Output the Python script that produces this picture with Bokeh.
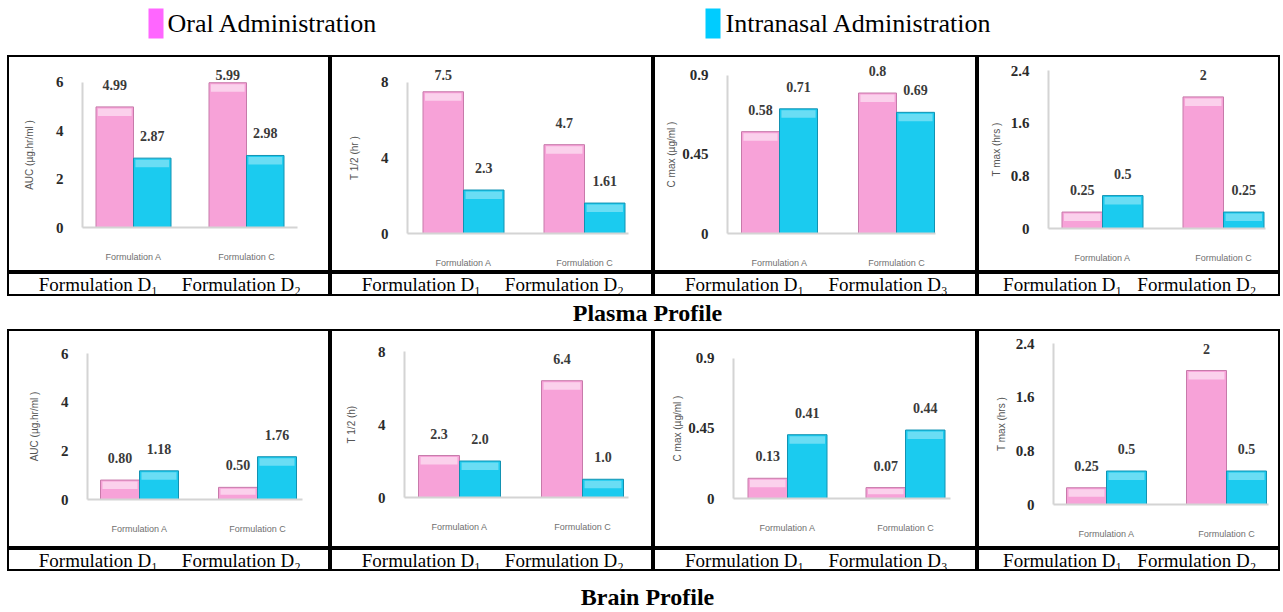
import numpy as np
from bokeh.plotting import figure
from bokeh.models import (Range1d, LinearAxis, FixedTicker, ColumnDataSource,
                          Label, Spacer)
from bokeh.layouts import column, row
from bokeh.embed import file_html
from bokeh.resources import INLINE
from bokeh.core.properties import value

# ---------------- data ----------------
series_names = ["Oral Administration", "Intranasal Administration"]
formulations = ["Formulation A", "Formulation C"]

plasma_auc_oral = [4.99, 5.99]
plasma_auc_nasal = [2.87, 2.98]
plasma_auc_oral_lbl = ["4.99", "5.99"]
plasma_auc_nasal_lbl = ["2.87", "2.98"]

plasma_t12_oral = [7.5, 4.7]
plasma_t12_nasal = [2.3, 1.61]
plasma_t12_oral_lbl = ["7.5", "4.7"]
plasma_t12_nasal_lbl = ["2.3", "1.61"]

plasma_cmax_oral = [0.58, 0.8]
plasma_cmax_nasal = [0.71, 0.69]
plasma_cmax_oral_lbl = ["0.58", "0.8"]
plasma_cmax_nasal_lbl = ["0.71", "0.69"]

plasma_tmax_oral = [0.25, 2]
plasma_tmax_nasal = [0.5, 0.25]
plasma_tmax_oral_lbl = ["0.25", "2"]
plasma_tmax_nasal_lbl = ["0.5", "0.25"]

brain_auc_oral = [0.80, 0.50]
brain_auc_nasal = [1.18, 1.76]
brain_auc_oral_lbl = ["0.80", "0.50"]
brain_auc_nasal_lbl = ["1.18", "1.76"]

brain_t12_oral = [2.3, 6.4]
brain_t12_nasal = [2.0, 1.0]
brain_t12_oral_lbl = ["2.3", "6.4"]
brain_t12_nasal_lbl = ["2.0", "1.0"]

brain_cmax_oral = [0.13, 0.07]
brain_cmax_nasal = [0.41, 0.44]
brain_cmax_oral_lbl = ["0.13", "0.07"]
brain_cmax_nasal_lbl = ["0.41", "0.44"]

brain_tmax_oral = [0.25, 2]
brain_tmax_nasal = [0.5, 0.5]
brain_tmax_oral_lbl = ["0.25", "2"]
brain_tmax_nasal_lbl = ["0.5", "0.5"]

auc_ticks = [0, 2, 4, 6]
auc_tick_labels = ["0", "2", "4", "6"]
t12_ticks = [0, 4, 8]
t12_tick_labels = ["0", "4", "8"]
cmax_ticks = [0, 0.45, 0.9]
cmax_tick_labels = ["0", "0.45", "0.9"]
tmax_ticks = [0, 0.8, 1.6, 2.4]
tmax_tick_labels = ["0", "0.8", "1.6", "2.4"]

captions = [["Formulation D\u2081", "Formulation D\u2082"],
            ["Formulation D\u2081", "Formulation D\u2082"],
            ["Formulation D\u2081", "Formulation D\u2083"],
            ["Formulation D\u2081", "Formulation D\u2082"]]

# ---------------- style ----------------
PINK, PINK_EDGE = "#F7A2D8", "#C77AAA"
CYAN, CYAN_EDGE = "#1BCBEF", "#1292B2"
LEG_PINK, LEG_CYAN = "#FF66FF", "#00CCFF"
SERIF = "Liberation Serif"
NARROW = "Liberation Sans Narrow"
SANS = "Liberation Sans"

LEFT_PAD = 7
col_w = [323, 323, 324, 303]
TOTAL_W = sum(col_w)
legend_h = 55
chart_h = [217, 219]
cap_h = [24, 23]
plasma_title_h = 33
brain_title_h = 41

# geometry per panel (pixels relative to cell): axis x, center A, center C,
# axis end, zero line y, pixels per unit, bar width
geo_plasma = [
    dict(ax=75, ca=126, cc=239, end=290, zero=172, ppu=24.17, bw=37.5),
    dict(ax=77, ca=133, cc=254, end=298, zero=178, ppu=18.9, bw=40.5),
    dict(ax=74, ca=126, cc=243, end=282, zero=178, ppu=175.6, bw=38),
    dict(ax=71, ca=125, cc=246, end=288, zero=173, ppu=65.8, bw=40.5),
]
geo_brain = [
    dict(ax=80, ca=132, cc=250, end=295, zero=170, ppu=24.3, bw=39),
    dict(ax=74, ca=129, cc=252, end=298, zero=168, ppu=18.25, bw=41),
    dict(ax=80, ca=134, cc=252, end=297, zero=169, ppu=155.6, bw=39.5),
    dict(ax=76, ca=129, cc=249, end=291, zero=175, ppu=67.0, bw=40),
]


def label_width(s):
    return sum(3.5 if c == "." else 8 for c in s)


def base_fig(W, H, xr, yr, outline=True):
    p = figure(width=W, height=H, x_range=xr, y_range=yr,
               x_axis_type=None, y_axis_type=None, toolbar_location=None,
               output_backend="svg", min_border=0,
               outline_line_color="black" if outline else None, outline_line_width=3,
               background_fill_color="white", border_fill_color="white")
    p.grid.visible = False
    return p


def make_panel(oral, nasal, oral_lbl, nasal_lbl, ticks, tick_labels, ylabel, W, H, g):
    d = g["cc"] - g["ca"]
    x0 = 1 - g["ca"] / d
    x1 = 1 + (W - g["ca"]) / d
    xa = 1 - (g["ca"] - g["ax"]) / d
    xe = 1 + (g["end"] - g["ca"]) / d
    ppu = g["ppu"]
    y0 = -(H - g["zero"]) / ppu
    y1 = g["zero"] / ppu
    p = base_fig(W, H, Range1d(x0, x1), Range1d(y0, y1))

    bw = g["bw"] / d
    groups = np.array([1.0, 2.0])
    for vals, lbls, off, fill, edge, halpha in (
            (oral, oral_lbl, -bw / 2, PINK, PINK_EDGE, 0.5),
            (nasal, nasal_lbl, bw / 2, CYAN, CYAN_EDGE, 0.35)):
        v = np.array(vals, dtype=float)
        xs = groups + off
        src = ColumnDataSource(dict(x=xs, top=v))
        p.vbar(x="x", top="top", bottom=0, width=bw, source=src,
               fill_color=fill, line_color=edge, line_width=1)
        # bevel highlight near top of each bar
        htop = v - 1.5 / ppu
        hbot = np.maximum(v - 9 / ppu, v * 0.4)
        hsrc = ColumnDataSource(dict(x=xs, top=htop, bottom=hbot))
        p.vbar(x="x", top="top", bottom="bottom", width=bw * 0.9, source=hsrc,
               fill_color="white", fill_alpha=halpha, line_color=None)
        ly = np.minimum(v + 22 / ppu, ticks[-1] + 7 / ppu)
        tsrc = ColumnDataSource(dict(x=xs, y=ly, t=lbls))
        p.text(x="x", y="y", text="t", source=tsrc, text_align="center",
               text_baseline="middle", text_font=value(NARROW),
               text_font_style="bold", text_font_size="14px", text_color="#3a3a3a")

    wmax = max(label_width(s) for s in tick_labels)
    yax = LinearAxis(fixed_location=xa, bounds=(0, ticks[-1]),
                     ticker=FixedTicker(ticks=ticks),
                     major_label_overrides={t: s for t, s in zip(ticks, tick_labels)},
                     axis_line_color="#d4d4d4", axis_line_width=2,
                     major_tick_line_color=None, minor_tick_line_color=None,
                     major_label_standoff=13,
                     major_label_text_font=NARROW, major_label_text_font_style="bold",
                     major_label_text_font_size="15px", major_label_text_color="#2a2a2a",
                     axis_label=ylabel, axis_label_text_font=SANS,
                     axis_label_text_font_size="10px", axis_label_text_font_style="normal",
                     axis_label_text_color="#555555",
                     axis_label_standoff=int(max(2, 44 - 13 - 5 - wmax)))
    p.add_layout(yax, "left")

    xax = LinearAxis(fixed_location=0, bounds=(xa, xe),
                     ticker=FixedTicker(ticks=[1, 2]),
                     major_label_overrides={1: formulations[0], 2: formulations[1]},
                     axis_line_color="#d4d4d4", axis_line_width=2,
                     major_tick_line_color=None, minor_tick_line_color=None,
                     major_label_standoff=18,
                     major_label_text_font=SANS, major_label_text_font_size="9px",
                     major_label_text_color="#707070")
    p.add_layout(xax, "below")
    return p


def make_caption(texts, W, H):
    p = base_fig(W, H, Range1d(0, 1), Range1d(0, 1))
    for fx, t in zip((0.281, 0.724), texts):
        p.add_layout(Label(x=fx, y=0.5, text=t, text_align="center",
                           text_baseline="middle", text_font=SERIF,
                           text_font_size="19px", text_color="black"))
    return p


def make_title(text, H, y_from_bottom):
    p = base_fig(TOTAL_W, H, Range1d(0, TOTAL_W), Range1d(0, H), outline=False)
    p.add_layout(Label(x=640, y=y_from_bottom, text=text, text_align="center",
                       text_baseline="middle", text_font=SERIF,
                       text_font_style="bold", text_font_size="24px",
                       text_color="black"))
    return p


# legend figure (pixel coordinates, y measured from bottom)
leg = base_fig(TOTAL_W, legend_h, Range1d(0, TOTAL_W), Range1d(0, legend_h), outline=False)
leg.quad(left=[141, 698], right=[156, 713], bottom=17, top=47,
         fill_color=[LEG_PINK, LEG_CYAN], line_color=None)
for name, tx in ((series_names[0], 160), (series_names[1], 718)):
    leg.add_layout(Label(x=tx, y=32, text=name, text_align="left",
                         text_baseline="middle", text_font=SERIF,
                         text_font_size="26px", text_color="black"))

plasma_specs = [
    (plasma_auc_oral, plasma_auc_nasal, plasma_auc_oral_lbl, plasma_auc_nasal_lbl,
     auc_ticks, auc_tick_labels, "AUC (\u00b5g.hr/ml )"),
    (plasma_t12_oral, plasma_t12_nasal, plasma_t12_oral_lbl, plasma_t12_nasal_lbl,
     t12_ticks, t12_tick_labels, "T 1/2 (hr )"),
    (plasma_cmax_oral, plasma_cmax_nasal, plasma_cmax_oral_lbl, plasma_cmax_nasal_lbl,
     cmax_ticks, cmax_tick_labels, "C max (\u00b5g/ml )"),
    (plasma_tmax_oral, plasma_tmax_nasal, plasma_tmax_oral_lbl, plasma_tmax_nasal_lbl,
     tmax_ticks, tmax_tick_labels, "T max (hrs )"),
]
brain_specs = [
    (brain_auc_oral, brain_auc_nasal, brain_auc_oral_lbl, brain_auc_nasal_lbl,
     auc_ticks, auc_tick_labels, "AUC (\u00b5g.hr/ml )"),
    (brain_t12_oral, brain_t12_nasal, brain_t12_oral_lbl, brain_t12_nasal_lbl,
     t12_ticks, t12_tick_labels, "T 1/2 (h)"),
    (brain_cmax_oral, brain_cmax_nasal, brain_cmax_oral_lbl, brain_cmax_nasal_lbl,
     cmax_ticks, cmax_tick_labels, "C max (\u00b5g/ml )"),
    (brain_tmax_oral, brain_tmax_nasal, brain_tmax_oral_lbl, brain_tmax_nasal_lbl,
     tmax_ticks, tmax_tick_labels, "T max (hrs )"),
]

plasma_row = row([make_panel(*s, W=w, H=chart_h[0], g=g)
                  for s, w, g in zip(plasma_specs, col_w, geo_plasma)], spacing=0)
plasma_caps = row([make_caption(c, w, cap_h[0]) for c, w in zip(captions, col_w)], spacing=0)
brain_row = row([make_panel(*s, W=w, H=chart_h[1], g=g)
                 for s, w, g in zip(brain_specs, col_w, geo_brain)], spacing=0)
brain_caps = row([make_caption(c, w, cap_h[1]) for c, w in zip(captions, col_w)], spacing=0)

main = column([leg, plasma_row, plasma_caps,
               make_title("Plasma Profile", plasma_title_h, 17),
               brain_row, brain_caps,
               make_title("Brain Profile", brain_title_h, 16)], spacing=0)
layout = row([Spacer(width=LEFT_PAD, height=10), main], spacing=0)

open("out.html", "w").write(file_html(layout, INLINE))
